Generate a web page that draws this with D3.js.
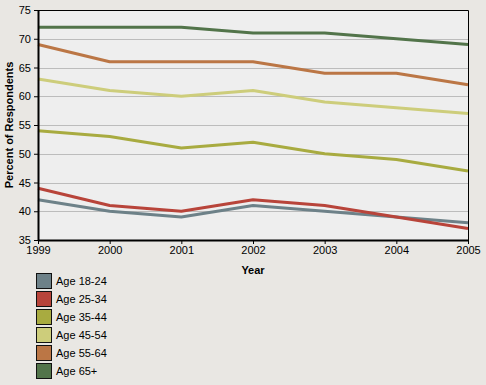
<!DOCTYPE html>
<html>
<head>
<meta charset="utf-8">
<script src="https://cdn.jsdelivr.net/npm/d3@7"></script>
<style>
  html, body { margin: 0; padding: 0; background: #e9e7e3; }
  svg { display: block; font-family: "Liberation Sans", Arial, sans-serif; }
</style>
</head>
<body>
<svg id="chart" width="486" height="385"></svg>
<script>
// age-group trend chart, 1999-2005
const years = [1999, 2000, 2001, 2002, 2003, 2004, 2005];
const seriesNames = ['Age 18-24', 'Age 25-34', 'Age 35-44', 'Age 45-54', 'Age 55-64', 'Age 65+'];
const age1824 = [42, 40, 39, 41, 40, 39, 38];
const age2534 = [44, 41, 40, 42, 41, 39, 37];
const age3544 = [54, 53, 51, 52, 50, 49, 47];
const age4554 = [63, 61, 60, 61, 59, 58, 57];
const age5564 = [69, 66, 66, 66, 64, 64, 62];
const age65 = [72, 72, 72, 71, 71, 70, 69];
const yTicks = [35, 40, 45, 50, 55, 60, 65, 70, 75];
const colors = ['#6d8188', '#b8443a', '#a8ab40', '#cdcd7b', '#bb7645', '#52744a'];

const seriesValues = [age1824, age2534, age3544, age4554, age5564, age65];

const svg = d3.select('#chart');
const plotL = 38, plotR = 468, plotT = 10, plotB = 240;

const x = d3.scaleLinear().domain([1999, 2005]).range([plotL, plotR]);
const y = d3.scaleLinear().domain([35, 75]).range([plotB, plotT]);

// plot background
svg.append('rect')
  .attr('x', plotL).attr('y', plotT).attr('width', plotR - plotL).attr('height', plotB - plotT)
  .attr('fill', '#eeeeee');

// grid lines
svg.append('g').selectAll('line')
  .data(yTicks.filter(t => t > 35 && t < 75))
  .join('line')
  .attr('x1', plotL).attr('x2', plotR)
  .attr('y1', d => Math.round(y(d)) + 0.5).attr('y2', d => Math.round(y(d)) + 0.5)
  .attr('stroke', '#bcbcbc').attr('stroke-width', 1);

// lines
const line = d3.line().x((d, i) => x(years[i])).y(d => y(d));
svg.append('g').selectAll('path')
  .data(seriesValues)
  .join('path')
  .attr('d', d => line(d))
  .attr('fill', 'none')
  .attr('stroke', (d, i) => colors[i])
  .attr('stroke-width', 3)
  .attr('stroke-linejoin', 'round');

// frame: thin top/right
svg.append('path')
  .attr('d', `M${plotL},${plotT + 0.5}H${plotR + 0.5}V${plotB}`)
  .attr('fill', 'none').attr('stroke', '#000').attr('stroke-width', 1);

// y axis
const yAxis = d3.axisLeft(y).tickValues(yTicks).tickSize(4).tickSizeOuter(0).tickPadding(3);
const gy = svg.append('g').attr('transform', `translate(${plotL},0)`).call(yAxis);
gy.select('.domain').attr('stroke-width', 2);
gy.selectAll('text').attr('font-size', 11).attr('fill', '#000')
  .attr('font-family', '"Liberation Sans", Arial, sans-serif');

// x axis
const xAxis = d3.axisBottom(x).tickValues(years).tickFormat(d3.format('d')).tickSize(4).tickSizeOuter(0).tickPadding(2);
const gx = svg.append('g').attr('transform', `translate(0,${plotB})`).call(xAxis);
gx.select('.domain').attr('stroke-width', 2);
gx.selectAll('text').attr('font-size', 11).attr('fill', '#000')
  .attr('font-family', '"Liberation Sans", Arial, sans-serif');

// axis titles
svg.append('text')
  .attr('transform', `translate(13,${(plotT + plotB) / 2}) rotate(-90)`)
  .attr('text-anchor', 'middle')
  .attr('font-size', 11).attr('font-weight', 'bold')
  .text('Percent of Respondents');

svg.append('text')
  .attr('x', (plotL + plotR) / 2).attr('y', 274)
  .attr('text-anchor', 'middle')
  .attr('font-size', 11).attr('font-weight', 'bold')
  .text('Year');

// legend
const legend = svg.append('g').selectAll('g')
  .data(seriesNames)
  .join('g')
  .attr('transform', (d, i) => `translate(36,${273 + i * 18})`);
legend.append('rect')
  .attr('x', 0.5).attr('y', 0.5).attr('width', 15).attr('height', 15)
  .attr('fill', (d, i) => colors[i])
  .attr('stroke', '#111').attr('stroke-width', 1);
legend.append('text')
  .attr('x', 20).attr('y', 12)
  .attr('font-size', 11)
  .text(d => d);
</script>
</body>
</html>
